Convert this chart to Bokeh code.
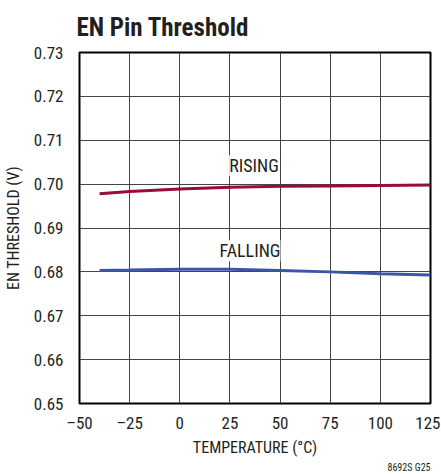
from bokeh.plotting import figure
from bokeh.models import Label, Title, FixedTicker, PrintfTickFormatter
from bokeh.embed import file_html
from bokeh.resources import INLINE

# Data
temp_rising = [-40, -25, 0, 25, 50, 75, 100, 125]
rising = [0.6978, 0.6983, 0.6989, 0.6993, 0.6995, 0.6996, 0.6997, 0.6998]
temp_falling = [-40, -25, 0, 25, 50, 75, 100, 125]
falling = [0.6803, 0.6804, 0.6806, 0.6806, 0.6803, 0.6800, 0.6796, 0.6793]
x_ticks = [-50, -25, 0, 25, 50, 75, 100, 125]
x_tick_labels = ["–50", "–25", "0", "25", "50", "75", "100", "125"]
y_ticks = [0.65, 0.66, 0.67, 0.68, 0.69, 0.70, 0.71, 0.72, 0.73]

FONT = "Liberation Sans Narrow, Roboto Condensed, Roboto"
TXT = "#231f20"

p = figure(frame_width=351, frame_height=351, output_backend="svg", toolbar_location=None,
           x_range=(-50, 125), y_range=(0.65, 0.73),
           min_border_left=76, min_border_top=51, min_border_right=10, min_border_bottom=68)

p.title.text = "EN Pin Threshold"
p.title.text_font = FONT
p.title.text_font_size = "25px"
p.title.text_font_style = "bold"
p.title.text_color = TXT
p.title.offset = -3
p.title.standoff = 21

p.line(temp_rising, rising, line_color="#9a0b35", line_width=3)
p.line(temp_falling, falling, line_color="#3a56a6", line_width=3)

p.add_layout(Label(x=37, y=0.7042, text="RISING", text_align="center", text_baseline="middle",
                   text_font=FONT, text_font_size="18px", text_color=TXT,
                   background_fill_color="white"))
p.add_layout(Label(x=35, y=0.6848, text="FALLING", text_align="center", text_baseline="middle",
                   text_font=FONT, text_font_size="18px", text_color=TXT,
                   background_fill_color="white"))

foot = Title(text="8692S G25", align="right", text_font=FONT, text_font_size="10px",
             text_font_style="normal", text_color=TXT, offset=0, standoff=0)
p.add_layout(foot, "below")

p.xaxis.ticker = FixedTicker(ticks=x_ticks)
p.xaxis.major_label_overrides = {t: l for t, l in zip(x_ticks, x_tick_labels)}
p.yaxis.ticker = FixedTicker(ticks=y_ticks)
p.yaxis.formatter = PrintfTickFormatter(format="%.2f")

for ax in (p.xaxis, p.yaxis):
    ax.axis_line_color = None
    ax.major_tick_line_color = None
    ax.minor_tick_line_color = None
    ax.major_label_text_font = FONT
    ax.major_label_text_font_size = "17px"
    ax.major_label_text_color = TXT
    ax.axis_label_text_font = FONT
    ax.axis_label_text_font_size = "16px"
    ax.axis_label_text_font_style = "normal"
    ax.axis_label_text_color = TXT

p.xaxis.axis_label = "TEMPERATURE (°C)"
p.yaxis.axis_label = "EN THRESHOLD (V)"
p.xaxis.major_label_standoff = 3
p.yaxis.major_label_standoff = 10
p.xaxis.axis_label_standoff = 2
p.yaxis.axis_label_standoff = 8

p.grid.grid_line_color = "#444444"
p.grid.grid_line_width = 1
p.grid.grid_line_alpha = 1
p.outline_line_color = "black"
p.outline_line_width = 2
p.outline_line_alpha = 1

open("out.html", "w").write(file_html(p, INLINE))
